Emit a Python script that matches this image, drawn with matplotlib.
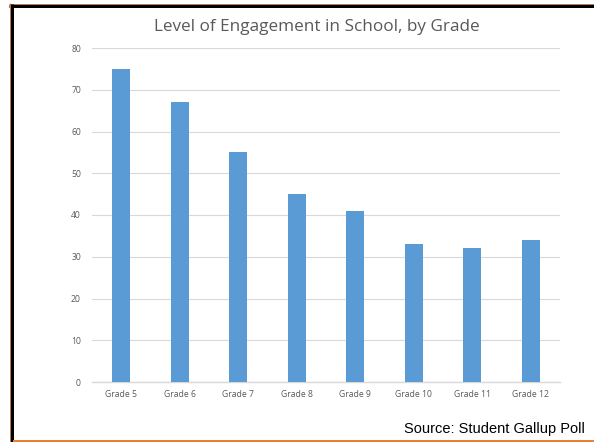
import matplotlib
matplotlib.use("Agg")
import matplotlib.pyplot as plt
from matplotlib.lines import Line2D

grades = ['Grade 5', 'Grade 6', 'Grade 7', 'Grade 8', 'Grade 9', 'Grade 10', 'Grade 11', 'Grade 12']
engagement = [75, 67, 55, 45, 41, 33, 32, 34]
yticks = [0, 10, 20, 30, 40, 50, 60, 70, 80]

W, H = 594, 442
fig = plt.figure(figsize=(W / 100, H / 100), dpi=100)
fig.patch.set_facecolor('white')

ax = fig.add_axes([92 / W, 1 - 382 / H, (560 - 92) / W, (382 - 48) / H])
ax.bar(range(len(grades)), engagement, width=0.31, color='#5B9BD5', zorder=3)
ax.set_xlim(-0.5, len(grades) - 0.5)
ax.set_ylim(0, 80)
ax.set_yticks(yticks)
ax.set_xticks(range(len(grades)))
ax.set_xticklabels(grades, fontsize=6.2, color='#595959', family='Open Sans')
ax.set_yticklabels([str(v) for v in yticks], fontsize=6.2, color='#595959', family='Open Sans')
ax.tick_params(length=0, pad=8)
ax.tick_params(axis='x', pad=6)
ax.grid(axis='y', color='#D9D9D9', linewidth=0.8, zorder=0)
for s in ['top', 'right', 'left']:
    ax.spines[s].set_visible(False)
ax.spines['bottom'].set_color('#D9D9D9')
ax.spines['bottom'].set_linewidth(1.0)

fig.text(317 / W, 1 - 27 / H, 'Level of Engagement in School, by Grade',
         ha='center', va='center', fontsize=12.3, color='#595959', family='Open Sans')
fig.text(585 / W, 1 - 429 / H, 'Source: Student Gallup Poll',
         ha='right', va='center', fontsize=10.5, color='black', family='Liberation Sans')

# slide frame
px = 0.72
def hline(y, x0, x1, color, w):
    fig.add_artist(Line2D([x0 / W, x1 / W], [1 - y / H, 1 - y / H], color=color,
                          linewidth=w * px, transform=fig.transFigure, solid_capstyle='butt'))

def vline(x, y0, y1, color, w):
    fig.add_artist(Line2D([x / W, x / W], [1 - y0 / H, 1 - y1 / H], color=color,
                          linewidth=w * px, transform=fig.transFigure, solid_capstyle='butt'))

hline(3.5, 9, W, '#C0784A', 1)
hline(5.5, 9, W, 'black', 3)
vline(9.5, 3, H, '#C0784A', 1)
vline(11.5, 4, H, 'black', 3)
hline(440.5, 13, W, '#ED7D31', 2)

fig.savefig('out.png', dpi=100)
